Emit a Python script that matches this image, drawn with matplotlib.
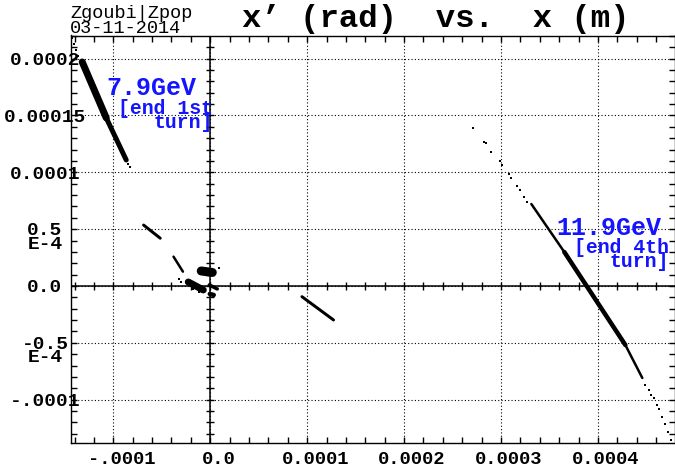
import numpy as np
import matplotlib
matplotlib.use("Agg")
import matplotlib.pyplot as plt
from matplotlib.ticker import MultipleLocator
from matplotlib.transforms import ScaledTranslation, blended_transform_factory

plt.rcParams['font.family'] = ['Liberation Mono', 'DejaVu Sans Mono']

# dense bunch cores as segments, x (m) / x' (rad)
core_x0 = [-1.321e-4, -1.073e-4, 3.313e-4, 3.653e-4, 4.283e-4,
           -0.688e-4, -0.379e-4, -0.093e-4, -0.227e-4, -0.005e-4, -0.010e-4, 0.946e-4]
core_y0 = [1.970e-4, 1.478e-4, 0.721e-4, 0.299e-4, -0.519e-4,
           0.536e-4, 0.258e-4, 0.132e-4, 0.035e-4, -0.070e-4, 0.009e-4, -0.094e-4]
core_x1 = [-1.073e-4, -0.867e-4, 3.653e-4, 4.283e-4, 4.458e-4,
           -0.516e-4, -0.282e-4, 0.021e-4, -0.072e-4, 0.036e-4, 0.072e-4, 1.272e-4]
core_y1 = [1.478e-4, 1.108e-4, 0.299e-4, -0.519e-4, -0.809e-4,
           0.420e-4, 0.126e-4, 0.119e-4, -0.035e-4, -0.079e-4, -0.026e-4, -0.299e-4]
core_width = [7, 5, 2.5, 4.5, 2.5, 3, 2.5, 9, 7, 4.5, 3.5, 3]   # pixels

# isolated particles around the cores
stray_x = [-1.424e-4, -1.404e-4, -1.383e-4, -1.362e-4, -0.846e-4, -0.826e-4,
           2.711e-4, 2.820e-4, 2.848e-4, 2.900e-4, 2.986e-4, 3.010e-4, 3.078e-4,
           3.106e-4, 3.165e-4, 3.192e-4, 3.233e-4, 3.268e-4,
           4.489e-4, 4.530e-4, 4.551e-4, 4.582e-4, 4.613e-4, 4.633e-4, 4.664e-4,
           4.695e-4, 4.726e-4, 4.757e-4,
           -0.320e-4, -0.299e-4, -0.175e-4, -0.114e-4, 0.093e-4]
stray_y = [2.181e-4, 2.128e-4, 2.076e-4, 2.020e-4, 1.075e-4, 1.047e-4,
           1.387e-4, 1.269e-4, 1.255e-4, 1.176e-4, 1.099e-4, 1.064e-4, 0.985e-4,
           0.947e-4, 0.880e-4, 0.844e-4, 0.785e-4, 0.741e-4,
           -0.871e-4, -0.915e-4, -0.959e-4, -0.985e-4, -1.047e-4, -1.082e-4, -1.152e-4,
           -1.214e-4, -1.284e-4, -1.354e-4,
           0.062e-4, 0.035e-4, -0.026e-4, -0.053e-4, 0.158e-4]

xticks = [-1e-4, 0.0, 1e-4, 2e-4, 3e-4, 4e-4]
xticklabels = ['-.0001', '0.0', '0.0001', '0.0002', '0.0003', '0.0004']
yticks = [-1e-4, -5e-5, 0.0, 5e-5, 1e-4, 1.5e-4, 2e-4]
yticklabels = ['-.0001', '-0.5\nE-4', '0.0', '0.5\nE-4', '0.0001', '0.00015', '0.0002']

W, H = 675, 472
fig = plt.figure(figsize=(W / 100, H / 100), dpi=100)
ax = fig.add_axes([70.7 / W, 29 / H, 603.8 / W, 407.5 / H])
ax.set_xlim(-1.44e-4, 4.79e-4)
ax.set_ylim(-1.381e-4, 2.203e-4)

px = 72 / 100   # points per pixel
for x0, y0, x1, y1, w in zip(core_x0, core_y0, core_x1, core_y1, core_width):
    ax.plot([x0, x1], [y0, y1], color='k', lw=w * px, solid_capstyle='round', zorder=4)
ax.scatter(stray_x, stray_y, s=1.5, marker='s', color='k', linewidths=0, zorder=4)

# axes through the origin with cross ticks
ax.axhline(0, color='k', lw=1.1, zorder=3)
ax.axvline(0, color='k', lw=1.1, zorder=3)
xminor = np.arange(-1.4e-4, 4.8e-4, 2e-5)
yminor = np.arange(-1.3e-4, 2.2e-4, 1e-5)
ax.plot(xminor, np.zeros_like(xminor), ls='none', marker='|', ms=6, mew=1, color='k', zorder=3)
ax.plot(np.zeros_like(yminor), yminor, ls='none', marker='_', ms=6, mew=1, color='k', zorder=3)

ax.set_xticks(xticks, xticklabels)
ax.set_yticks(yticks)
ax.xaxis.set_minor_locator(MultipleLocator(2e-5))
ax.yaxis.set_minor_locator(MultipleLocator(1e-5))
ax.tick_params(which='both', direction='in', length=4, width=1, top=True, right=True,
               labelleft=False)
ax.tick_params(axis='x', pad=6, labelsize=13.5)
for lab in ax.get_xticklabels():
    lab.set_fontweight('bold')
    lab.set_transform(lab.get_transform() + ScaledTranslation(8 / 100, 0, fig.dpi_scale_trans))
ax.grid(True, which='major', color='k', linestyle=(0, (1, 2)), linewidth=0.8)
for sp in ax.spines.values():
    sp.set_linewidth(1)

# y tick labels, centred left of the frame; exponent goes on a second line,
# the first line stays on the tick
ytr = blended_transform_factory(fig.transFigure, ax.transData)
for y, lab in zip(yticks, yticklabels):
    shift = ScaledTranslation(0, -8 / 100 * lab.count('\n'), fig.dpi_scale_trans)
    ax.text(45 / W, y, lab, transform=ytr + shift, ha='center', va='center_baseline',
            fontsize=14, fontweight='bold', linespacing=0.73, clip_on=False)

fig.text(242 / W, 1 - 27 / H, "x\u2019 (rad)  vs.  x (m)", fontsize=23.3,
         fontweight='bold', va='baseline')
# multi-line texts are anchored on the baseline of their last line
fig.text(70 / W, 1 - 33 / H, "Zgoubi|Zpop\n03-11-2014", fontsize=13.4, va='baseline',
         linespacing=0.82)

blue = '#1414ff'
fig.text(106 / W, 1 - 95 / H, "7.9GeV", fontsize=18, fontweight='bold', color=blue, va='baseline')
fig.text(213 / W, 1 - 128 / H, "[end 1st\nturn]", fontsize=14.2, fontweight='bold', color=blue,
         va='baseline', ha='right', multialignment='right', linespacing=0.64)
fig.text(556 / W, 1 - 235 / H, "11.9GeV", fontsize=18, fontweight='bold', color=blue, va='baseline')
fig.text(669 / W, 1 - 267 / H, "[end 4th\nturn]", fontsize=14.2, fontweight='bold', color=blue,
         va='baseline', ha='right', multialignment='right', linespacing=0.64)

fig.savefig('out.png', dpi=100)
